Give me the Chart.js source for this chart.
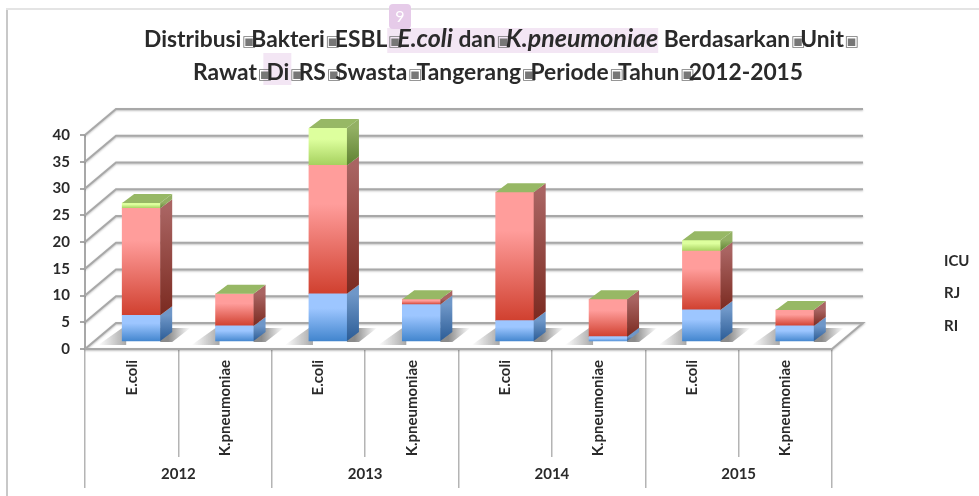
<!DOCTYPE html>
<html><head><meta charset="utf-8">
<style>html,body{margin:0;padding:0;background:#fff;overflow:hidden}canvas{display:block;filter:blur(.5px)}</style>
<script src="https://cdn.jsdelivr.net/npm/chart.js@4"></script>
</head><body><canvas id="c" width="979" height="496"></canvas>
<script>
const categories=["E.coli","K.pneumoniae","E.coli","K.pneumoniae","E.coli","K.pneumoniae","E.coli","K.pneumoniae"];
const years=["2012","2013","2014","2015"];
const RI=[5,3,9,7,4,1,6,3];
const RJ=[20,6,24,1,24,7,11,3];
const ICU=[1,0,7,0,0,0,2,0];
const yMax=40, yStep=5;
const FONT='Lato';
const titleLines=[
 [["Distribusi",0],["▣",2],["Bakteri",0],["▣",2],["ESBL",0],["▣",5],["E.coli",1],[" dan",3],["▣",5],["K.pneumoniae",1],[" Berdasarkan",0],["▣",2],["Unit",0],["▣",2]],
 [["Rawat",0],["▣",2],["Di",4],["▣",2],["RS",0],["▣",2],["Swasta",0],["▣",2],["Tangerang",0],["▣",2],["Periode",0],["▣",2],["Tahun",0],["▣",2],["2012-2015",0]]
];
const palette=[
 {f:["#9dc6ff","#3f83cc"],s:["#6f97c8","#2b5c96"]},
 {f:["#ff9d9b","#d0402f"],s:["#a96462","#7b2a20"]},
 {f:["#ddff9d","#a5d05e"],s:["#93b064","#5f8231"]}
];
const DX=12,DY=9,OX=9.5,OY=-7;
const series=[RI,RJ,ICU];
function grad(ctx,i,j,stops){
  const c=ctx.chart; if(!c.chartArea) return stops[0];
  const y=c.scales.y; let s=0; for(let k=0;k<i;k++) s+=series[k][j];
  const g=c.ctx.createLinearGradient(0,y.getPixelForValue(s+series[i][j]),0,y.getPixelForValue(s));
  g.addColorStop(0,stops[0]); g.addColorStop(.3,stops[0]); g.addColorStop(1,stops[1]); return g;
}
const wall={id:'wall',beforeDatasetsDraw(c){
  const x=c.ctx,a=c.chartArea,y=c.scales.y,bx=31,by=26;
  x.save();
  x.fillStyle='#c8c8c8';x.fillRect(6,9,2,487);
  x.fillStyle='#e4e4e4';x.fillRect(6,8,973,2);
  x.strokeStyle='#a8a8a8';x.lineWidth=2;
  x.shadowColor='rgba(0,0,0,.25)';x.shadowBlur=2;x.shadowOffsetY=1;
  for(let v=0;v<=yMax;v+=yStep){
    const p=y.getPixelForValue(v);
    x.beginPath();x.moveTo(a.left,p);x.lineTo(a.left+bx,p-by);x.lineTo(a.right+bx,p-by);
    if(v===0){x.lineTo(a.right,p);x.lineTo(a.left,p);}
    x.stroke();
  }
  x.restore();
  x.save();x.translate(OX,OY);
  c.getDatasetMeta(0).data.forEach(b=>{
    const l=b.x-b.width/2,r=b.x+b.width/2,yb=y.getPixelForValue(0);
    const gl=x.createLinearGradient(l-24,0,l+4,0);
    gl.addColorStop(0,'rgba(110,110,110,0)');gl.addColorStop(1,'rgba(110,110,110,.6)');
    x.fillStyle=gl;x.beginPath();x.moveTo(l-24,yb+3);x.lineTo(l+4,yb+3);x.lineTo(l+4,yb-14);x.lineTo(l,yb-14);x.fill();
    const gr=x.createLinearGradient(r+8,0,r+30,0);
    gr.addColorStop(0,'rgba(90,90,90,.7)');gr.addColorStop(1,'rgba(90,90,90,0)');
    x.fillStyle=gr;x.beginPath();x.moveTo(r,yb);x.lineTo(r,yb-14);x.lineTo(r+30,yb-14);x.lineTo(r+12,yb);x.fill();
  });
  x.restore();
  x.save();x.translate(OX,OY);
},afterDatasetsDraw(c){
  const x=c.ctx;
  c.data.datasets.forEach((d,i)=>{
    c.getDatasetMeta(i).data.forEach((b,j)=>{
      if(!series[i][j]) return;
      const r=b.x+b.width/2;
      const g=x.createLinearGradient(0,b.y,0,b.base);
      g.addColorStop(0,palette[i].s[0]);g.addColorStop(1,palette[i].s[1]);
      x.fillStyle=g;x.beginPath();x.moveTo(r,b.y);x.lineTo(r+DX,b.y-DY);x.lineTo(r+DX,b.base-DY);x.lineTo(r,b.base);x.fill();
    });
  });
  c.getDatasetMeta(0).data.forEach((b,j)=>{
    const y=c.scales.y.getPixelForValue(RI[j]+RJ[j]+ICU[j]);
    const l=b.x-b.width/2,r=b.x+b.width/2;
    x.fillStyle='#97b865';x.beginPath();x.moveTo(l,y);x.lineTo(l+DX,y-DY);x.lineTo(r+DX,y-DY);x.lineTo(r,y);x.fill();
  });
  x.restore();
}};
const deco={id:'deco',afterDraw(c){
  const x=c.ctx;
  x.save();
  const bold='bold 22.8px '+FONT;
  const fonts=[bold,'italic bold 25px '+FONT,'15px "DejaVu Sans"',bold,bold,'15px "DejaVu Sans"'];
  const ys=[47,80],boxAdvs=[10,9.4],starts=[144,193];
  const isBox=s=>s[1]===2||s[1]===5;
  x.textBaseline='alphabetic';
  titleLines.forEach((ln,k)=>{
    const adv=s=>{if(isBox(s))return boxAdvs[k];x.font=fonts[s[1]];return x.measureText(s[0]).width;};
    let px=starts[k];
    ln.forEach(s=>{const m=adv(s);s.push(px,m);px+=m;});
    x.fillStyle='#f3e6f4';
    if(k===0){const a=ln.find(s=>s[1]===5),z=ln.filter(s=>s[1]===1)[1];x.fillRect(a[2],28,z[2]+z[3]-a[2],25);}
    else{const d=ln.find(s=>s[1]===4);x.fillRect(d[2]-3,53,d[3]+5,32);}
    ln.forEach(s=>{if(!isBox(s))return;x.font=fonts[s[1]];x.fillStyle='#777';x.fillText(s[0],s[2]+1,ys[k]-1);});
    ln.forEach(s=>{if(isBox(s))return;x.font=fonts[s[1]];x.fillStyle='#2a2a2a';x.fillText(s[0],s[2],ys[k]);});
  });
  x.fillStyle='#e6cbe9';x.beginPath();x.roundRect(389,4,22,25,4);x.fill();
  x.fillStyle='#fff';x.font='16px '+FONT;x.textAlign='center';x.fillText('9',400,22);
  x.textAlign='left';x.fillStyle='#2a2a2a';x.font='bold 15px '+FONT;
  const ly=[326,293,261];
  c.data.datasets.forEach((d,i)=>{x.textBaseline='middle';x.fillText(d.label,944,ly[i]);});
  x.restore();
}};
new Chart(document.getElementById('c'),{
 type:'bar',
 data:{labels:categories,datasets:[
  {label:'RI',data:RI,barThickness:38,backgroundColor:ctx=>grad(ctx,0,ctx.dataIndex,palette[0].f)},
  {label:'RJ',data:RJ,barThickness:38,backgroundColor:ctx=>grad(ctx,1,ctx.dataIndex,palette[1].f)},
  {label:'ICU',data:ICU,barThickness:38,backgroundColor:ctx=>grad(ctx,2,ctx.dataIndex,palette[2].f)}
 ]},
 options:{responsive:false,animation:false,
  layout:{padding:{left:0,right:147,top:135,bottom:8}},
  plugins:{legend:{display:false},title:{display:false},tooltip:{enabled:false}},
  scales:{
   y:{stacked:true,min:0,max:yMax,afterFit:s=>{s.width=85;},
      ticks:{stepSize:yStep,padding:10,color:'#2a2a2a',font:{family:FONT,weight:'bold',size:15}},
      grid:{drawOnChartArea:false,tickLength:5,color:'#a8a8a8',lineWidth:2},border:{color:'#a8a8a8',width:2}},
   x:{stacked:true,afterFit:s=>{s.height=108;},
      ticks:{autoSkip:false,minRotation:90,maxRotation:90,padding:-97,color:'#2a2a2a',font:{family:FONT,weight:'bold',size:15}},
      grid:{drawOnChartArea:false,tickLength:108,color:'#b4b4b4',lineWidth:1.5},border:{display:false}},
   x2:{type:'category',position:'bottom',labels:years,afterFit:s=>{s.height=31;},
      ticks:{padding:-23,color:'#2a2a2a',font:{family:FONT,weight:'bold',size:15}},
      grid:{drawOnChartArea:false,tickLength:31,offset:true,color:'#b4b4b4',lineWidth:1.5},border:{display:false}}
  }
 },
 plugins:[wall,deco]
});
</script></body></html>
